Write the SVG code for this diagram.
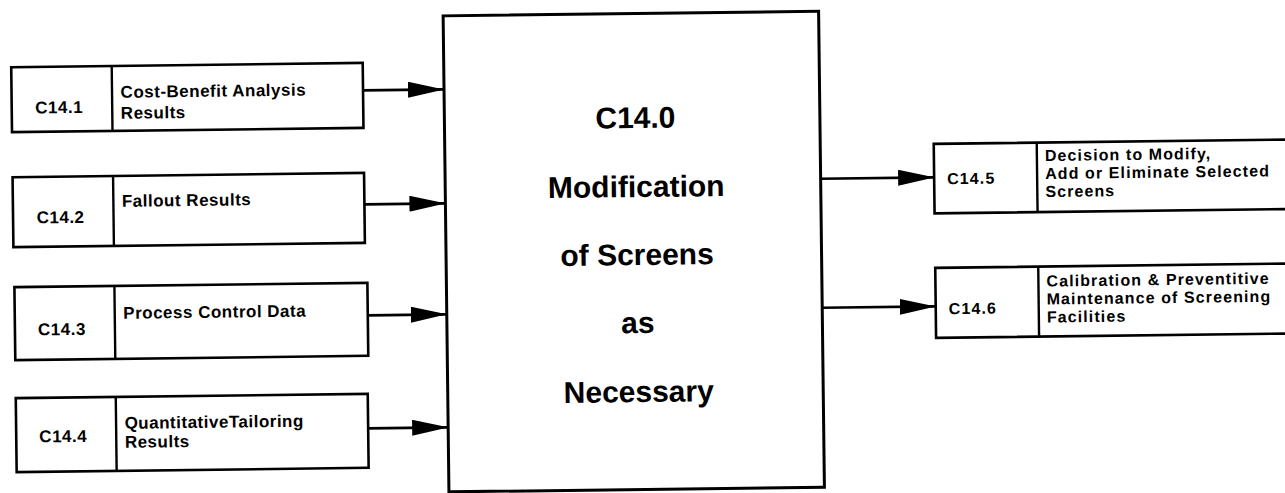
<svg xmlns="http://www.w3.org/2000/svg" width="1285" height="493" viewBox="0 0 1285 493">
  <style>
    .box { fill: #fff; stroke: #000; stroke-width: 2.6; }
    .div { stroke: #000; stroke-width: 2.4; }
    .lbl { font-family: "Liberation Sans", Arial, sans-serif; font-weight: bold; font-size: 17px; letter-spacing: 0.5px; fill: #000; }
    .sm { font-size: 16px; letter-spacing: 1.1px; }
    .id { text-anchor: middle; }
    .big { font-family: "Liberation Sans", Arial, sans-serif; font-weight: bold; font-size: 30px; text-anchor: middle; fill: #000; }
    .conn line { stroke: #000; stroke-width: 2.6; marker-end: url(#ah); }
  </style>
  <defs>
    <marker id="ah" markerUnits="userSpaceOnUse" markerWidth="36" markerHeight="16" refX="36" refY="8" orient="auto">
      <path d="M0,0 L36,8 L0,16 Z" fill="#000"/>
    </marker>
  </defs>
  <rect width="1285" height="493" fill="#fff"/>
  <g transform="rotate(-0.7 640 250)">
    <g id="connectors" class="conn">
      <line x1="365" y1="87" x2="446" y2="87"/>
      <line x1="365" y1="201" x2="446" y2="201"/>
      <line x1="367" y1="312" x2="446" y2="312"/>
      <line x1="366" y1="425" x2="446" y2="425"/>
      <line x1="821" y1="181" x2="935" y2="181"/>
      <line x1="821" y1="310" x2="935" y2="310"/>
    </g>

    <g id="c14-1">
      <rect class="box" x="13.5" y="59.5" width="351.5" height="65"/>
      <line class="div" x1="114" y1="59.5" x2="114" y2="124.5"/>
      <text class="lbl id" x="61" y="106">C14.1</text>
      <text class="lbl" x="122.5" y="91.5">Cost-Benefit Analysis</text>
      <text class="lbl" x="122.5" y="112.5">Results</text>
    </g>

    <g id="c14-2">
      <rect class="box" x="13.5" y="169.5" width="351.5" height="70"/>
      <line class="div" x1="114" y1="169.5" x2="114" y2="239.5"/>
      <text class="lbl id" x="61" y="216">C14.2</text>
      <text class="lbl" x="122.5" y="200.5">Fallout Results</text>
    </g>

    <g id="c14-3">
      <rect class="box" x="14" y="279.5" width="353" height="73"/>
      <line class="div" x1="114" y1="279.5" x2="114" y2="352.5"/>
      <text class="lbl id" x="61" y="328">C14.3</text>
      <text class="lbl" x="122.5" y="312.5">Process Control Data</text>
    </g>

    <g id="c14-4">
      <rect class="box" x="14" y="390.5" width="352" height="74"/>
      <line class="div" x1="114" y1="390.5" x2="114" y2="464.5"/>
      <text class="lbl id" x="61" y="435">C14.4</text>
      <text class="lbl" x="122.5" y="422.5">QuantitativeTailoring</text>
      <text class="lbl" x="122.5" y="441.5">Results</text>
    </g>

    <g id="c14-0">
      <rect class="box" x="446" y="13.5" width="375.5" height="476" style="stroke-width:3"/>
      <text class="big" x="637" y="128">C14.0</text>
      <text class="big" x="637" y="197">Modification</text>
      <text class="big" x="637" y="265">of Screens</text>
      <text class="big" x="637" y="333">as</text>
      <text class="big" x="637" y="402">Necessary</text>
    </g>

    <g id="c14-5">
      <rect class="box" x="935" y="147.5" width="400" height="69.5"/>
      <line class="div" x1="1038" y1="147.5" x2="1038" y2="217"/>
      <text class="lbl sm" x="948" y="188">C14.5</text>
      <text class="lbl sm" x="1046" y="166">Decision to Modify,</text>
      <text class="lbl sm" x="1046" y="184">Add or Eliminate Selected</text>
      <text class="lbl sm" x="1046" y="202">Screens</text>
    </g>

    <g id="c14-6">
      <rect class="box" x="935" y="271.5" width="400" height="70"/>
      <line class="div" x1="1038" y1="271.5" x2="1038" y2="341.5"/>
      <text class="lbl sm" x="948" y="318">C14.6</text>
      <text class="lbl sm" x="1046" y="291.5">Calibration &amp; Preventitive</text>
      <text class="lbl sm" x="1046" y="309.5">Maintenance of Screening</text>
      <text class="lbl sm" x="1046" y="327.5">Facilities</text>
    </g>
  </g>
</svg>
